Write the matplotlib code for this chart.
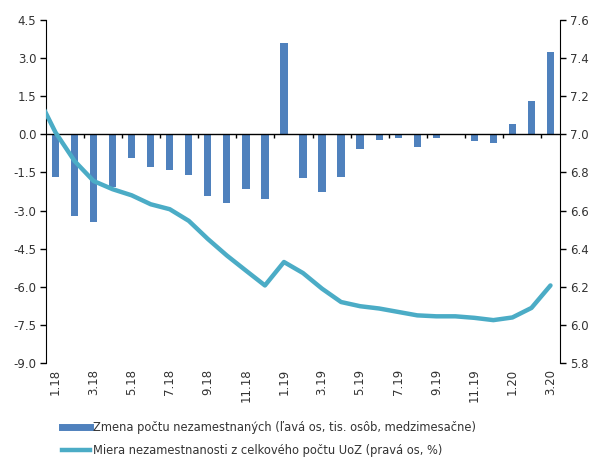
import matplotlib
matplotlib.use("Agg")
import matplotlib.pyplot as plt
import numpy as np

plt.rcParams['font.family'] = ['DejaVu Sans']

categories = ['1.18', '2.18', '3.18', '4.18', '5.18', '6.18', '7.18', '8.18', '9.18',
              '10.18', '11.18', '12.18', '1.19', '2.19', '3.19', '4.19', '5.19', '6.19',
              '7.19', '8.19', '9.19', '10.19', '11.19', '12.19', '1.20', '2.20', '3.20']
bar_values = [-1.68, -3.21, -3.46, -2.08, -0.95, -1.27, -1.40, -1.62, -2.41, -2.71,
              -2.16, -2.55, 3.60, -1.71, -2.25, -1.69, -0.57, -0.23, -0.14, -0.50,
              -0.14, 0.0, -0.26, -0.34, 0.40, 1.32, 3.26]
# previous month (12.17) value followed by 1.18 .. 3.20
line_prev = 7.21
line_values = [7.01, 6.86, 6.755, 6.712, 6.68, 6.633, 6.607, 6.546, 6.451, 6.364,
               6.285, 6.207, 6.330, 6.272, 6.19, 6.12, 6.098, 6.086, 6.068, 6.05,
               6.045, 6.045, 6.037, 6.025, 6.039, 6.089, 6.207]
label_every = 2

bar_label = 'Zmena počtu nezamestnaných (ľavá os, tis. osôb, medzimesačne)'
line_label = 'Miera nezamestnanosti z celkového počtu UoZ (pravá os, %)'

bar_color = '#4F81BD'
line_color = '#4BACC6'
text_color = '#333333'

fig = plt.figure(figsize=(5.97, 4.57), dpi=100)
ax = fig.add_axes([46/597, 1-363/457, (560-46)/597, (363-20)/457])
x = np.arange(len(categories))

bars = ax.bar(x, bar_values, width=0.38, color=bar_color, zorder=2, label=bar_label)
ax.set_ylim(-9, 4.5)
ax.set_yticks(np.arange(-9, 4.51, 1.5))
ax.set_yticklabels([f'{v:.1f}' for v in np.arange(-9, 4.51, 1.5)])
ax.set_xlim(-0.5, len(categories) - 0.5)
ax.axhline(0, color='black', lw=1.0, zorder=3)
boundaries = np.arange(1.5, len(categories) - 1, 2)
ax.vlines(boundaries, -0.13, 0, color='black', lw=1.0, zorder=3)

ax.set_xticks(x[::label_every])
ax.set_xticklabels(categories[::label_every], rotation=90)
ax.tick_params(axis='x', length=0, pad=4, labelsize=8.5, labelcolor=text_color)
ax.tick_params(axis='y', direction='out', length=4, width=1, labelsize=8.5,
               labelcolor=text_color, pad=3)
for s in ['top', 'bottom', 'right']:
    ax.spines[s].set_visible(False)
ax.spines['left'].set_color('black')

ax2 = ax.twinx()
lx = np.arange(-1, len(categories))
ly = [line_prev] + line_values
line, = ax2.plot(lx, ly, color=line_color, lw=3.2, solid_capstyle='round',
                 solid_joinstyle='round', zorder=4, label=line_label)
ax2.set_ylim(5.8, 7.6)
ax2.set_yticks(np.arange(5.8, 7.61, 0.2))
ax2.set_yticklabels([f'{v:.1f}' for v in np.arange(5.8, 7.61, 0.2)])
ax2.set_xlim(-0.5, len(categories) - 0.5)
ax2.tick_params(axis='y', direction='out', length=4, width=1, labelsize=8.5,
                labelcolor=text_color, pad=3)
for s in ['top', 'bottom', 'left']:
    ax2.spines[s].set_visible(False)
ax2.spines['right'].set_color('black')

from matplotlib.lines import Line2D
h1 = Line2D([0], [0], color=bar_color, lw=5)
h2 = Line2D([0], [0], color=line_color, lw=3.2)
leg = fig.legend([h1, h2], [bar_label, line_label], loc='upper left',
                 bbox_to_anchor=(52/597, 1-411/457), frameon=False, fontsize=8.3,
                 handlelength=2.4, handletextpad=0.25, labelspacing=0.85,
                 labelcolor=text_color)

fig.savefig('out.png', dpi=100)
